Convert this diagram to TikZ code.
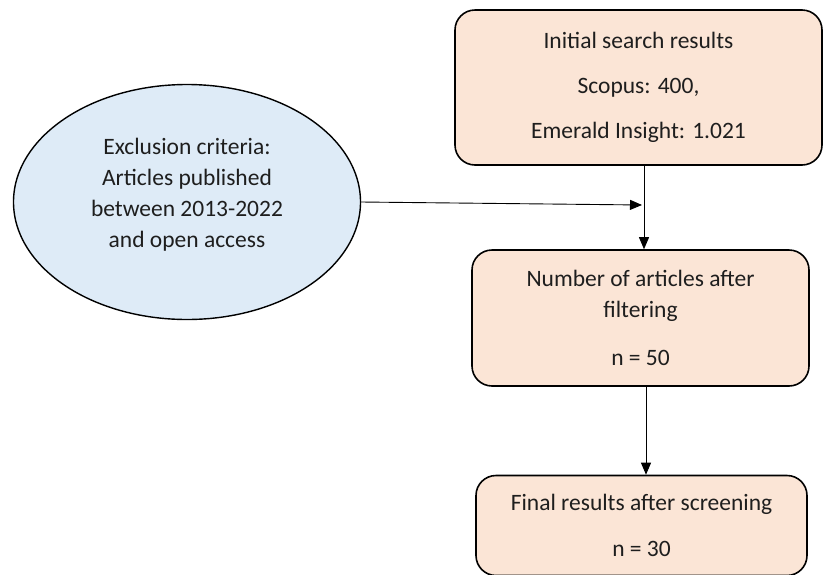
\documentclass[tikz,border=0pt]{standalone}
\usepackage{fontspec}
\setmainfont{Carlito}
\usetikzlibrary{arrows.meta,shapes.geometric}
\definecolor{peach}{RGB}{251,229,214}
\definecolor{paleblue}{RGB}{222,235,247}
\definecolor{txt}{RGB}{30,30,30}
\tikzset{
  stepbox/.style={draw=black, line width=1.6pt, fill=peach, rounded corners=20pt, inner sep=0pt, align=center, text=txt},
  critell/.style={draw=black, line width=1.4pt, fill=paleblue, ellipse, inner sep=0pt},
  lbl/.style={align=center, text=txt, inner sep=0pt},
  conn/.style={draw=black, line width=0.9pt, -{Triangle[length=12pt,width=10pt]}},
  plain/.style={draw=black, line width=0.9pt}
}
\begin{document}
\begin{tikzpicture}[x=1pt,y=-1pt,font=\fontsize{23.5}{31}\selectfont]
\useasboundingbox (0,0) rectangle (823,574);
\node[stepbox, minimum width=367pt, minimum height=155pt] (b1) at (638.5,87.5)
  {Initial search results\\[14pt]Scopus: 400,\\[14pt]Emerald Insight: 1.021};
\node[stepbox, minimum width=337pt, minimum height=136pt] (b2) at (640.5,318)
  {Number of articles after\\filtering\\[17pt]n = 50};
\node[stepbox, minimum width=331pt, minimum height=100pt] (b3) at (641.5,525.5)
  {Final results after screening\\[15pt]n = 30};
\node[critell, minimum width=347pt, minimum height=235pt] (ell) at (187,202) {};
\node[lbl] (ellt) at (187,195) {Exclusion criteria:\\Articles published\\between 2013-2022\\and open access};
\coordinate (m) at (644,205);
\draw[plain] (b1.south -| m) -- (m);
\draw[conn] (m) -- (b2.north -| m);
\draw[conn] (ell.east) -- ([xshift=-2pt]m);
\coordinate (m2) at (646,400);
\draw[conn] (b2.south -| m2) -- (b3.north -| m2);
\end{tikzpicture}
\end{document}
